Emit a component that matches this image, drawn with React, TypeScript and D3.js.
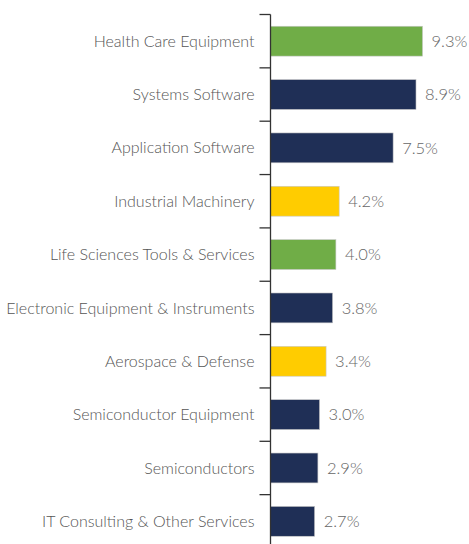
import React from "react";
import * as d3 from "d3";

const categories = [
  "Health Care Equipment",
  "Systems Software",
  "Application Software",
  "Industrial Machinery",
  "Life Sciences Tools & Services",
  "Electronic Equipment & Instruments",
  "Aerospace & Defense",
  "Semiconductor Equipment",
  "Semiconductors",
  "IT Consulting & Other Services",
];
const values = [9.3, 8.9, 7.5, 4.2, 4.0, 3.8, 3.4, 3.0, 2.9, 2.7];
const groups = ["g", "n", "n", "y", "g", "n", "y", "n", "n", "n"];

const colorMap: Record<string, string> = { g: "#70AD47", n: "#1F2F56", y: "#FFCC00" };

export default function App() {
  const W = 469, H = 544;
  const x0 = 270.5;
  const top = 14.5;
  const step = 53.35;
  const y = d3
    .scaleBand<string>()
    .domain(categories)
    .range([top, top + step * categories.length])
    .paddingInner(0.44)
    .paddingOuter(0.22);
  const x = d3.scaleLinear().domain([0, 10]).range([x0, x0 + 163.5]);
  const font = "Lato, 'DejaVu Sans', sans-serif";
  const boundaries = d3.range(categories.length + 1).map((i) => top + i * step);
  return (
    <svg
      width={W}
      height={H}
      style={{ position: "absolute", left: 0, top: 0, background: "#fff" }}
      fontFamily={font}
      fontWeight={300}
    >
      {categories.map((c, i) => (
        <g key={c}>
          <rect
            x={x(0)}
            y={y(c)!}
            width={x(values[i]) - x(0)}
            height={y.bandwidth()}
            fill={colorMap[groups[i]]}
            stroke="#c8c8c8"
            strokeWidth={0.6}
          />
          <text
            x={x(values[i]) + 9}
            y={y(c)! + y.bandwidth() / 2}
            dy="0.35em"
            fontSize={16.5}
            fill="#666"
          >
            {values[i].toFixed(1) + "%"}
          </text>
          <text
            x={x0 - 16}
            y={y(c)! + y.bandwidth() / 2}
            dy="0.35em"
            textAnchor="end"
            fontSize={16}
            fill="#555"
          >
            {c}
          </text>
        </g>
      ))}
      <line x1={x0} x2={x0} y1={top} y2={H + 5} stroke="#333" strokeWidth={1.3} />
      {boundaries.map((b, i) => (
        <line key={i} x1={x0 - 11} x2={x0} y1={b} y2={b} stroke="#333" strokeWidth={1.3} />
      ))}
    </svg>
  );
}
